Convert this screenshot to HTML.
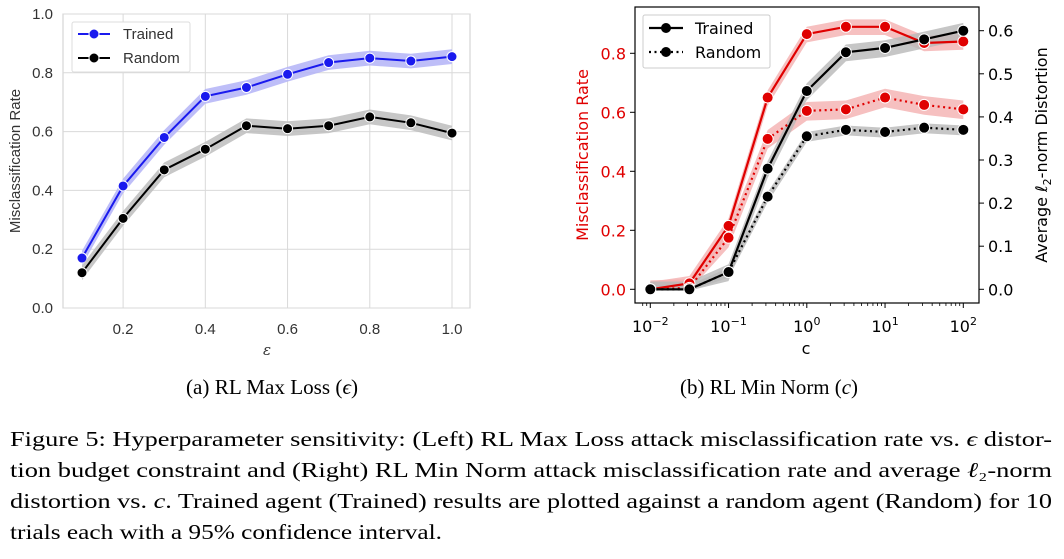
<!DOCTYPE html>
<html><head><meta charset="utf-8"><style>html,body{margin:0;padding:0;background:#fff;width:1064px;height:559px;overflow:hidden}svg{display:block}.ser{font-family:"Liberation Serif",serif}</style></head>
<body>
<svg id="fig" width="1064" height="559" xmlns="http://www.w3.org/2000/svg">
<g id="left"></g>
<g id="right"></g>
<g class="ser" style="font-family:'Liberation Serif',serif" font-size="21" fill="#000">
<text x="272" y="394" text-anchor="middle" textLength="172" lengthAdjust="spacingAndGlyphs">(a) RL Max Loss (<tspan font-style="italic">ϵ</tspan>)</text>
<text x="769" y="394" text-anchor="middle" textLength="178" lengthAdjust="spacingAndGlyphs">(b) RL Min Norm (<tspan font-style="italic">c</tspan>)</text>
<text x="10" y="446" textLength="1042" lengthAdjust="spacingAndGlyphs">Figure 5: Hyperparameter sensitivity: (Left) RL Max Loss attack misclassification rate vs. <tspan font-style="italic">ϵ</tspan> distor-</text>
<text x="10" y="477" textLength="1042" lengthAdjust="spacingAndGlyphs">tion budget constraint and (Right) RL Min Norm attack misclassification rate and average <tspan font-style="italic">ℓ</tspan>₂-norm</text>
<text x="10" y="508" textLength="1042" lengthAdjust="spacingAndGlyphs">distortion vs. <tspan font-style="italic">c</tspan>. Trained agent (Trained) results are plotted against a random agent (Random) for 10</text>
<text x="10" y="539" textLength="432" lengthAdjust="spacingAndGlyphs">trials each with a 95% confidence interval.</text>
</g>
</svg>
<script>
const epsValues = [0.1,0.2,0.3,0.4,0.5,0.6,0.7,0.8,0.9,1.0];
const epsTrained = [0.17,0.415,0.58,0.72,0.75,0.795,0.835,0.85,0.84,0.855];
const epsRandom = [0.12,0.305,0.47,0.54,0.62,0.61,0.62,0.65,0.63,0.595];
const epsXTicks = [0.2,0.4,0.6,0.8,1.0];
const epsYTicks = [0.0,0.2,0.4,0.6,0.8,1.0];

const cValues = [0.01,0.0316,0.1,0.316,1,3.16,10,31.6,100];
const cMisTrained = [0,0.02,0.215,0.65,0.865,0.89,0.89,0.835,0.84];
const cMisRandom = [0,0.005,0.175,0.51,0.605,0.61,0.65,0.625,0.61];
const cDistTrained = [0,0,0.04,0.28,0.46,0.55,0.56,0.58,0.60];
const cDistRandom = [0,0,0.04,0.215,0.355,0.37,0.365,0.375,0.37];
const cXTickExps = [-2,-1,0,1,2];
const cLeftTicks = [0.0,0.2,0.4,0.6,0.8];
const cRightTicks = [0.0,0.1,0.2,0.3,0.4,0.5,0.6];

const NS='http://www.w3.org/2000/svg';
const SANS="'Liberation Sans',sans-serif", DV="'DejaVu Sans',sans-serif";
function mk(parent,tag,attrs,text){const e=document.createElementNS(NS,tag);for(const k in attrs){if(k==='ff')e.style.fontFamily=attrs[k];else e.setAttribute(k,attrs[k]);}if(text!==undefined)e.textContent=text;parent.appendChild(e);return e;}
function line(xs,ys){return xs.map((x,i)=>(i?'L':'M')+x.toFixed(1)+','+ys[i].toFixed(1)).join('');}
function band(xs,ylo,yhi){let d=xs.map((x,i)=>(i?'L':'M')+x.toFixed(1)+','+yhi[i].toFixed(1)).join('');for(let i=xs.length-1;i>=0;i--)d+='L'+xs[i].toFixed(1)+','+ylo[i].toFixed(1);return d+'Z';}

// LEFT
(function(){
const g=document.getElementById('left');
const X=v=>82+(v-0.1)/0.9*(452-82), Y=v=>308-v*294;
let e=mk(g,'rect',{x:63,y:14,width:407,height:294,fill:'#fff',stroke:'#cccccc','stroke-width':1});

epsXTicks.forEach(t=>{mk(g,'line',{x1:X(t),x2:X(t),y1:14,y2:308,stroke:'#d9d9d9'});
 e=mk(g,'text',{x:X(t),y:334,'text-anchor':'middle',ff:SANS,'font-size':15,fill:'#333'},t.toFixed(1));
 });
epsYTicks.forEach(t=>{mk(g,'line',{x1:63,x2:470,y1:Y(t),y2:Y(t),stroke:'#d9d9d9'});
 e=mk(g,'text',{x:53,y:Y(t)+5,'text-anchor':'end',ff:SANS,'font-size':15,fill:'#333'},t.toFixed(1));
 });
e=mk(g,'text',{x:267,y:355,'text-anchor':'middle',ff:"'DejaVu Serif',serif",'font-style':'italic','font-size':15,fill:'#333'},'ε');

e=mk(g,'text',{x:0,y:0,transform:'translate(20,161) rotate(-90)','text-anchor':'middle',ff:SANS,'font-size':15,fill:'#333'},'Misclassification Rate');

const xs=epsValues.map(X);
[[epsTrained,'#1a1aee','#b3b3f7','trained'],[epsRandom,'#000','#bdbdbd','random']].forEach(([d,c,f,n])=>{
 e=mk(g,'path',{d:band(xs,d.map(v=>Y(v-0.025)),d.map(v=>Y(v+0.025))),fill:f,opacity:0.85});
 
 e=mk(g,'path',{d:line(xs,d.map(Y)),fill:'none',stroke:c,'stroke-width':2});
 
 d.forEach((v,i)=>{e=mk(g,'circle',{cx:xs[i],cy:Y(v),r:5,fill:c,stroke:'#fff','stroke-width':1});
  });
});
const lg=mk(g,'g',{});
mk(lg,'rect',{x:72,y:22,width:118,height:50,fill:'#fff',stroke:'#ddd',rx:2});
[['Trained','#1a1aee',34],['Random','#000',58]].forEach(([t,c,y])=>{
 mk(lg,'line',{x1:78,x2:110,y1:y,y2:y,stroke:c,'stroke-width':2});mk(lg,'circle',{cx:94,cy:y,r:5,fill:c,stroke:'#fff'});
 e=mk(lg,'text',{x:123,y:y+5,ff:SANS,'font-size':15,fill:'#333'},t);
 });
})();

// RIGHT
(function(){
const g=document.getElementById('right');
const X=v=>650.3+(Math.log10(v)+2)*78.25, YL=v=>289.3-v*295, YR=v=>289.3-v*431;
let e;
const xs=cValues.map(X);
[[cMisTrained,YL,'#f4b0b0','mis-trained',0.025],[cMisRandom,YL,'#f4b0b0','mis-random',0.03],
 [cDistTrained,YR,'#b8b8b8','dist-trained',0.018],[cDistRandom,YR,'#b8b8b8','dist-random',0.01]].forEach(([d,Y,f,n,w])=>{
 e=mk(g,'path',{d:band(xs,d.map(v=>Y(Math.max(v-w,0)-0.003)),d.map(v=>Y(v+w))),fill:f,opacity:0.8});
 
});
[[cMisTrained,YL,'#e00000','mis-trained',false],[cMisRandom,YL,'#e00000','mis-random',true],
 [cDistTrained,YR,'#000','dist-trained',false],[cDistRandom,YR,'#000','dist-random',true]].forEach(([d,Y,c,n,dot])=>{
 const a={d:line(xs,d.map(Y)),fill:'none',stroke:c,'stroke-width':2.2};if(dot)a['stroke-dasharray']='2,3.5';
 e=mk(g,'path',a);
 d.forEach((v,i)=>{e=mk(g,'circle',{cx:xs[i],cy:Y(v),r:5.5,fill:c,stroke:'#fff','stroke-width':1});
  });
});
e=mk(g,'rect',{x:635,y:7,width:344,height:296,fill:'none',stroke:'#000','stroke-width':1.2});

cXTickExps.forEach(p=>{const x=X(Math.pow(10,p));mk(g,'line',{x1:x,x2:x,y1:303,y2:308,stroke:'#000'});
 e=mk(g,'text',{x:x,y:332,'text-anchor':'middle',ff:DV,'font-size':16},'');
 mk(e,'tspan',{},'10');mk(e,'tspan',{dy:-7,'font-size':11},String(p).replace('-','−'));
 
 if(p<2)for(let k=2;k<10;k++){const xm=X(k*Math.pow(10,p));mk(g,'line',{x1:xm,x2:xm,y1:303,y2:306,stroke:'#000','stroke-width':0.8});}});
for(let k=8;k<10;k++){const xm=X(k*0.001);if(xm>635)mk(g,'line',{x1:xm,x2:xm,y1:303,y2:306,stroke:'#000','stroke-width':0.8});}
cLeftTicks.forEach(t=>{mk(g,'line',{x1:630,x2:635,y1:YL(t),y2:YL(t),stroke:'#000'});
 e=mk(g,'text',{x:626,y:YL(t)+6,'text-anchor':'end',ff:DV,'font-size':16,fill:'#e00000'},t.toFixed(1));
 });
cRightTicks.forEach(t=>{mk(g,'line',{x1:979,x2:984,y1:YR(t),y2:YR(t),stroke:'#000'});
 e=mk(g,'text',{x:988,y:YR(t)+6,ff:DV,'font-size':16},t.toFixed(1));
 });
e=mk(g,'text',{x:806,y:354,'text-anchor':'middle',ff:DV,'font-size':16},'c');

e=mk(g,'text',{transform:'translate(588,155) rotate(-90)','text-anchor':'middle',ff:DV,'font-size':16,fill:'#e00000'},'Misclassification Rate');

e=mk(g,'text',{transform:'translate(1047,155) rotate(-90)','text-anchor':'middle',ff:DV,'font-size':16},'Average ');
mk(e,'tspan',{'font-style':'italic'},'ℓ');mk(e,'tspan',{'font-size':11,dy:4},'2');mk(e,'tspan',{dy:-4},'-norm Distortion');

const lg=mk(g,'g',{});
mk(lg,'rect',{x:643,y:15,width:127,height:53,fill:'#fff',stroke:'#ccc',rx:2});
[['Trained',28,false],['Random',52,true]].forEach(([t,y,dot])=>{
 const a={x1:649,x2:683,y1:y,y2:y,stroke:'#000','stroke-width':2.2};if(dot)a['stroke-dasharray']='2,3.5';
 mk(lg,'line',a);mk(lg,'circle',{cx:666,cy:y,r:5,fill:'#000'});
 e=mk(lg,'text',{x:695,y:y+6,ff:DV,'font-size':16},t);
 });
})();
</script>
</body></html>
